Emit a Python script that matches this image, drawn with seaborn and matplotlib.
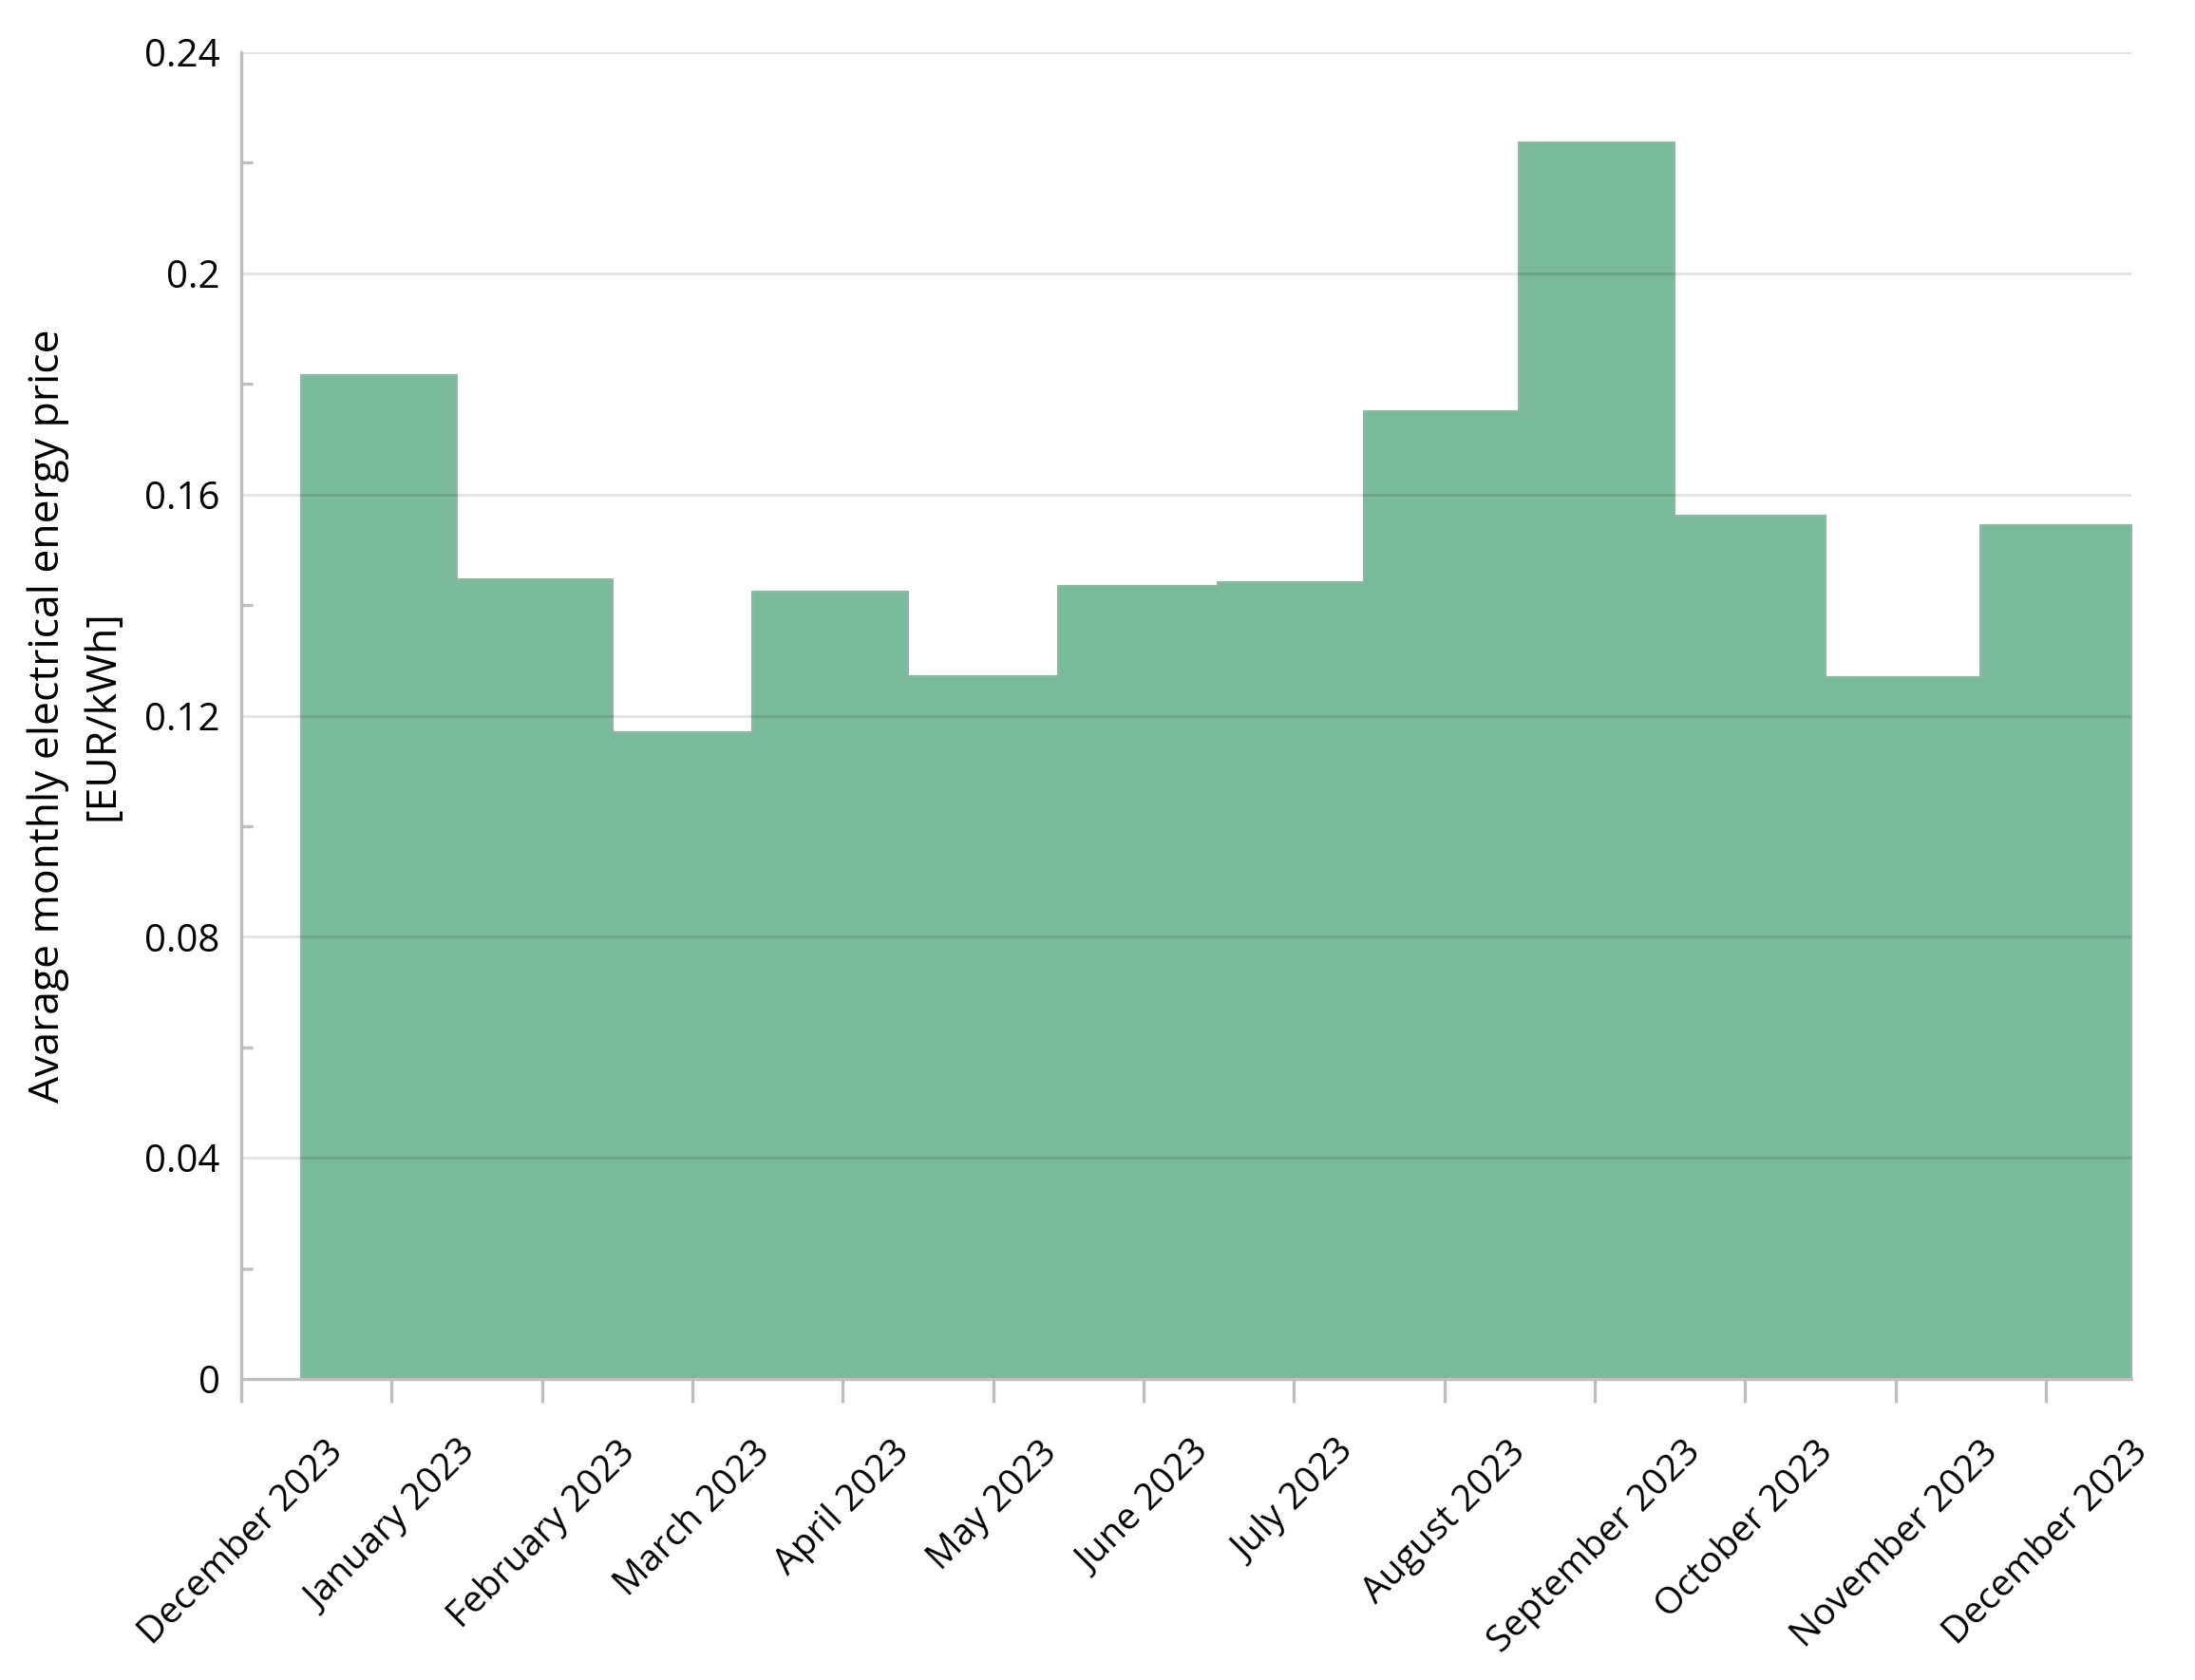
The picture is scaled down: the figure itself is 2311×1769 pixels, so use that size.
import numpy as np
import pandas as pd
import matplotlib
matplotlib.use("Agg")
import matplotlib.pyplot as plt
import seaborn as sns
from matplotlib.ticker import MultipleLocator, FuncFormatter

# ---------------- data ----------------
month_labels = ['December 2023', 'January 2023', 'February 2023', 'March 2023',
                'April 2023', 'May 2023', 'June 2023', 'July 2023',
                'August 2023', 'September 2023', 'October 2023',
                'November 2023', 'December 2023']
# step boundaries on the month axis (tick units, 0 = first tick)
step_edges = [0.398, 1.434, 2.467, 3.398, 4.434, 5.432, 6.496,
              7.465, 8.497, 9.533, 10.533, 11.564, 12.569]
# average monthly price for each step [EUR/kWh]
prices = [0.1816, 0.1447, 0.1170, 0.1425, 0.1272, 0.1435,
          0.1442, 0.1750, 0.2237, 0.1561, 0.1269, 0.1544]
# -----------------------------------------------------------

edges = np.array(step_edges)
df = pd.DataFrame({'pos': (edges[:-1] + edges[1:]) / 2, 'price': prices})

sns.set_theme(style="white")
plt.rcParams['font.family'] = ['Open Sans', 'DejaVu Sans']

GRAY = '#bfbfbf'
fig = plt.figure(figsize=(2311 / 200, 1769 / 200), dpi=200)
ax = fig.add_axes([254 / 2311, 1 - 1452 / 1769, (2244 - 254) / 2311, (1452 - 55) / 1769])

sns.histplot(data=df, x='pos', weights='price', bins=list(step_edges), element='step',
             fill=True, color='#7ab99b', alpha=1.0, linewidth=0.8,
             edgecolor='#93b5a4', ax=ax, zorder=1)

ax.set_xlim(0, step_edges[-1])
ax.set_ylim(0, 0.24)

# gridlines sit on top of the area, semi-transparent
ax.set_axisbelow(False)
ax.yaxis.set_major_locator(MultipleLocator(0.04))
ax.yaxis.set_minor_locator(MultipleLocator(0.02))
ax.yaxis.set_major_formatter(FuncFormatter(lambda v, p: f'{v:g}'))
ax.grid(axis='y', which='major', color='black', alpha=0.1, linewidth=1.1, zorder=2)
ax.grid(axis='x', visible=False)

ax.set_xticks(range(len(month_labels)))
ax.set_xticklabels(month_labels, rotation=45, ha='center')

for s in ['top', 'right']:
    ax.spines[s].set_visible(False)
for s in ['left', 'bottom']:
    ax.spines[s].set_color(GRAY)
    ax.spines[s].set_linewidth(1.2)
    ax.spines[s].set_zorder(3)

ax.tick_params(axis='y', which='major', length=0, pad=8, labelsize=14.5, labelcolor='black')
ax.tick_params(axis='y', which='minor', direction='in', length=4.3, width=1.2,
               color=GRAY, left=True)
ax.tick_params(axis='x', which='major', direction='out', length=9, width=1.2,
               color=GRAY, pad=12, labelsize=14, labelcolor='black', bottom=True)

ax.set_xlabel('')
ax.set_ylabel('Avarage monthly electrical energy price\n[EUR/kWh]',
              fontsize=16, linespacing=1.37, va='center', color='black')
ax.yaxis.set_label_coords((79.5 - 254) / (2244 - 254), 0.5)

plt.savefig('out.png', dpi=200, facecolor='white')
